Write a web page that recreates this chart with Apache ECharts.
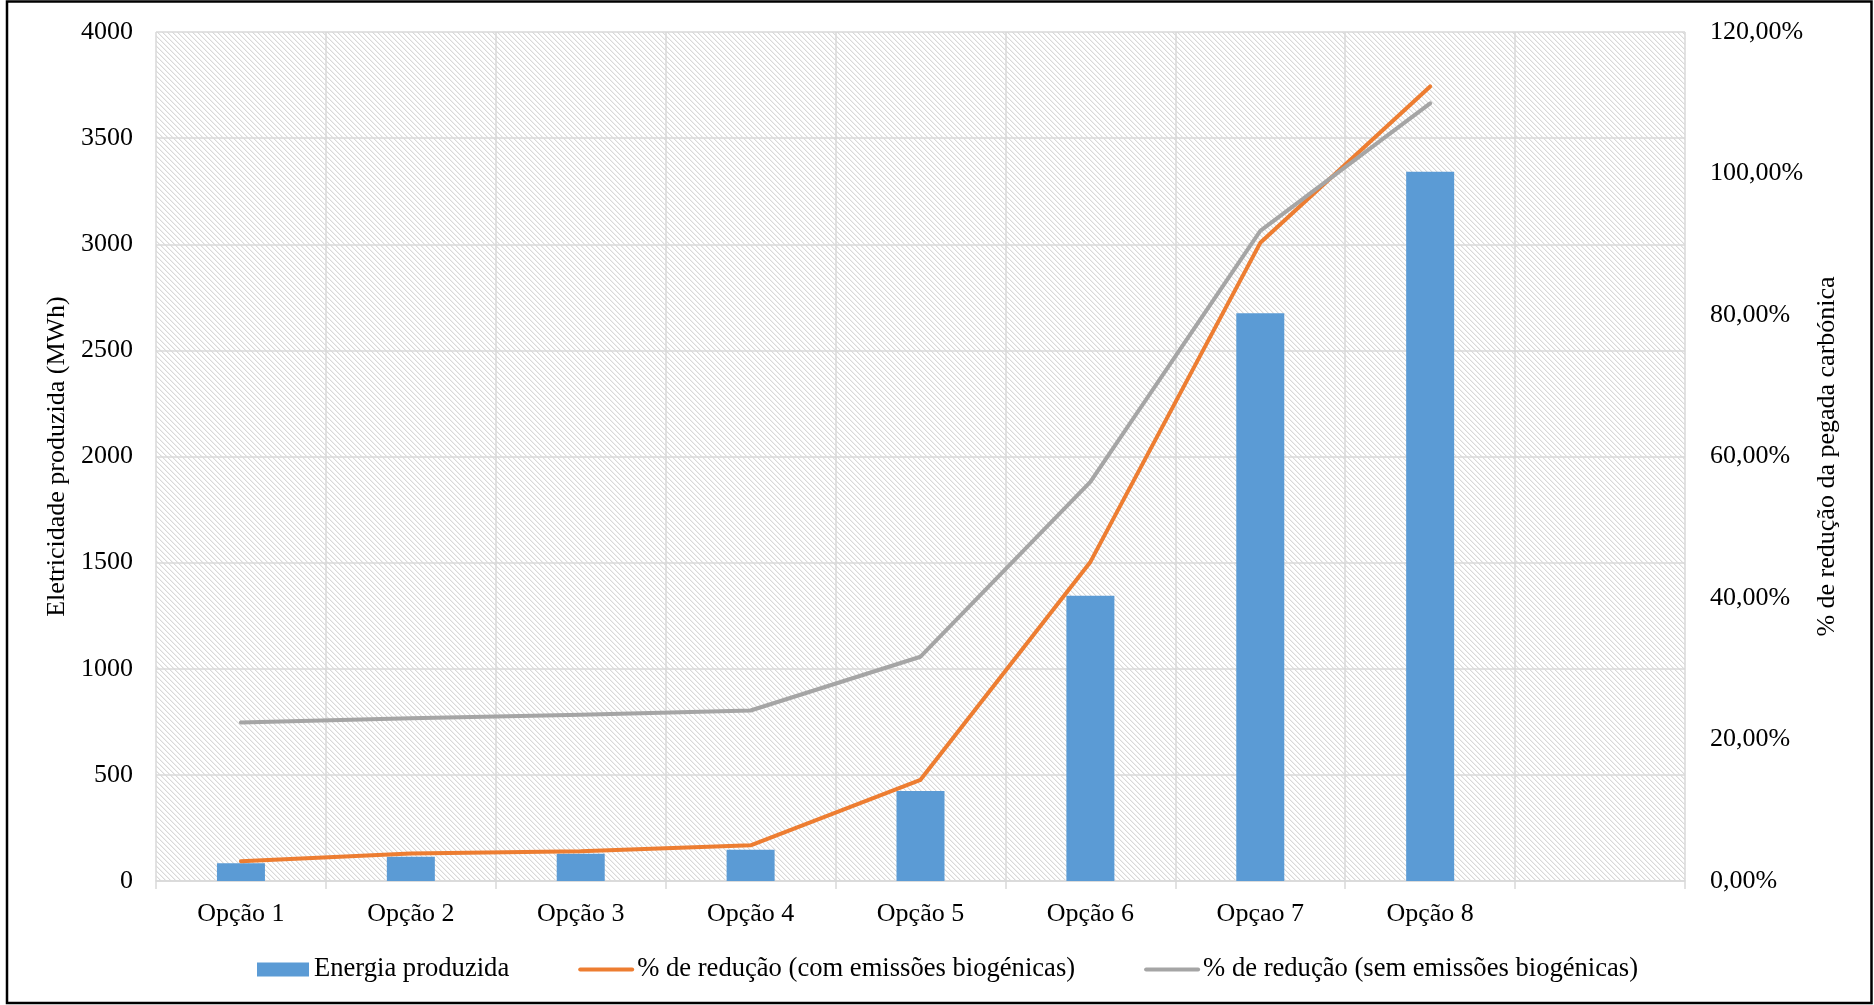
<!DOCTYPE html>
<html>
<head>
<meta charset="utf-8">
<script src="https://cdn.jsdelivr.net/npm/echarts@6/dist/echarts.min.js"></script>
<style>
  html, body { margin: 0; padding: 0; background: #ffffff; }
  #chart { width: 1874px; height: 1005px; }
</style>
</head>
<body>
<div id="chart"></div>
<script>
// Categories (the last slot is intentionally left blank)
const categories = ['Opção 1', 'Opção 2', 'Opção 3', 'Opção 4', 'Opção 5', 'Opção 6', 'Opçao 7', 'Opção 8', ''];

// Electricity produced (MWh)
const energiaProduzida = [84, 114, 128, 147, 424, 1344, 2675, 3342];

// Carbon footprint reduction (%)
const reducaoComBiogenicas = [2.8, 3.9, 4.2, 5.05, 14.3, 45.1, 90.2, 112.3];
const reducaoSemBiogenicas = [22.4, 23.0, 23.5, 24.1, 31.7, 56.4, 91.9, 109.9];

// Axis ranges
const energiaAxis = { min: 0, max: 4000, interval: 500 };
const reducaoAxis = { min: 0, max: 120, interval: 20 };

const FONT = "'Liberation Serif', 'Times New Roman', serif";
const FS = 26;

// Light downward-diagonal hatch used as the plot background
function hatchPattern() {
  const size = 5;
  const c = document.createElement('canvas');
  c.width = size; c.height = size;
  const ctx = c.getContext('2d');
  ctx.fillStyle = '#ffffff';
  ctx.fillRect(0, 0, size, size);
  ctx.fillStyle = '#d9d9d9';
  for (let i = 0; i < size; i++) ctx.fillRect(i, i, 1, 1);
  ctx.fillStyle = '#f0f0f0';
  for (let i = 0; i < size; i++) ctx.fillRect((i + 1) % size, i, 1, 1);
  return { image: c, repeat: 'repeat' };
}

const chart = echarts.init(document.getElementById('chart'), null, { renderer: 'canvas' });

const lineLegendStyle = (color) => ({
  itemStyle: { opacity: 0 },
  lineStyle: { color: color, width: 4 }
});

chart.setOption({
  animation: false,
  backgroundColor: '#ffffff',
  textStyle: { fontFamily: FONT, color: '#000' },
  graphic: [{
    type: 'rect',
    silent: true,
    z: 100,
    shape: { x: 7, y: 1.5, width: 1864.5, height: 1001.5 },
    style: { fill: 'none', stroke: '#000000', lineWidth: 2.5 }
  }],
  grid: {
    left: 156, top: 32, right: 189, bottom: 124,
    show: true,
    borderWidth: 0,
    backgroundColor: hatchPattern()
  },
  legend: {
    left: 252,
    top: 951,
    itemWidth: 52,
    itemHeight: 14,
    itemGap: 69,
    textStyle: { fontFamily: FONT, fontSize: 26.6, color: '#000' },
    data: [
      { name: 'Energia produzida', icon: 'rect' },
      Object.assign({ name: '% de redução (com emissões biogénicas)' }, lineLegendStyle('#ed7d31')),
      Object.assign({ name: '% de redução (sem emissões biogénicas)' }, lineLegendStyle('#a5a5a5'))
    ]
  },
  xAxis: {
    type: 'category',
    data: categories,
    boundaryGap: true,
    axisLine: { show: true, lineStyle: { color: '#d9d9d9', width: 1.5 } },
    axisTick: { show: true, length: 8, lineStyle: { color: '#d9d9d9', width: 1.5 } },
    splitLine: { show: true, lineStyle: { color: '#d9d9d9', width: 1.5 } },
    axisLabel: { fontFamily: FONT, fontSize: FS, color: '#000', margin: 20, interval: 0 }
  },
  yAxis: [{
    type: 'value',
    position: 'left',
    min: energiaAxis.min, max: energiaAxis.max, interval: energiaAxis.interval,
    name: 'Eletricidade produzida (MWh)',
    nameLocation: 'middle',
    nameRotate: 90,
    nameGap: 79,
    nameTextStyle: { fontFamily: FONT, fontSize: FS, color: '#000' },
    axisLine: { show: false },
    axisTick: { show: false },
    splitLine: { show: true, lineStyle: { color: '#d9d9d9', width: 1.5 } },
    axisLabel: {
      fontFamily: FONT, fontSize: FS, color: '#000', margin: 23,
      formatter: v => String(v)
    }
  }, {
    type: 'value',
    position: 'right',
    min: reducaoAxis.min, max: reducaoAxis.max, interval: reducaoAxis.interval,
    name: '% de redução da pegada carbónica',
    nameLocation: 'middle',
    nameRotate: 90,
    nameGap: 129,
    nameTextStyle: { fontFamily: FONT, fontSize: FS, color: '#000' },
    axisLine: { show: false },
    axisTick: { show: false },
    splitLine: { show: false },
    axisLabel: {
      fontFamily: FONT, fontSize: FS, color: '#000', margin: 25,
      formatter: v => v.toFixed(2).replace('.', ',') + '%'
    }
  }],
  series: [{
    name: 'Energia produzida',
    type: 'bar',
    yAxisIndex: 0,
    barWidth: 48,
    itemStyle: { color: '#5b9bd5' },
    data: energiaProduzida
  }, {
    name: '% de redução (com emissões biogénicas)',
    type: 'line',
    yAxisIndex: 1,
    symbol: 'none',
    lineStyle: { color: '#ed7d31', width: 4, cap: 'round', join: 'round' },
    itemStyle: { color: '#ed7d31' },
    data: reducaoComBiogenicas
  }, {
    name: '% de redução (sem emissões biogénicas)',
    type: 'line',
    yAxisIndex: 1,
    symbol: 'none',
    lineStyle: { color: '#a5a5a5', width: 4, cap: 'round', join: 'round' },
    itemStyle: { color: '#a5a5a5' },
    data: reducaoSemBiogenicas
  }]
});
</script>
</body>
</html>
